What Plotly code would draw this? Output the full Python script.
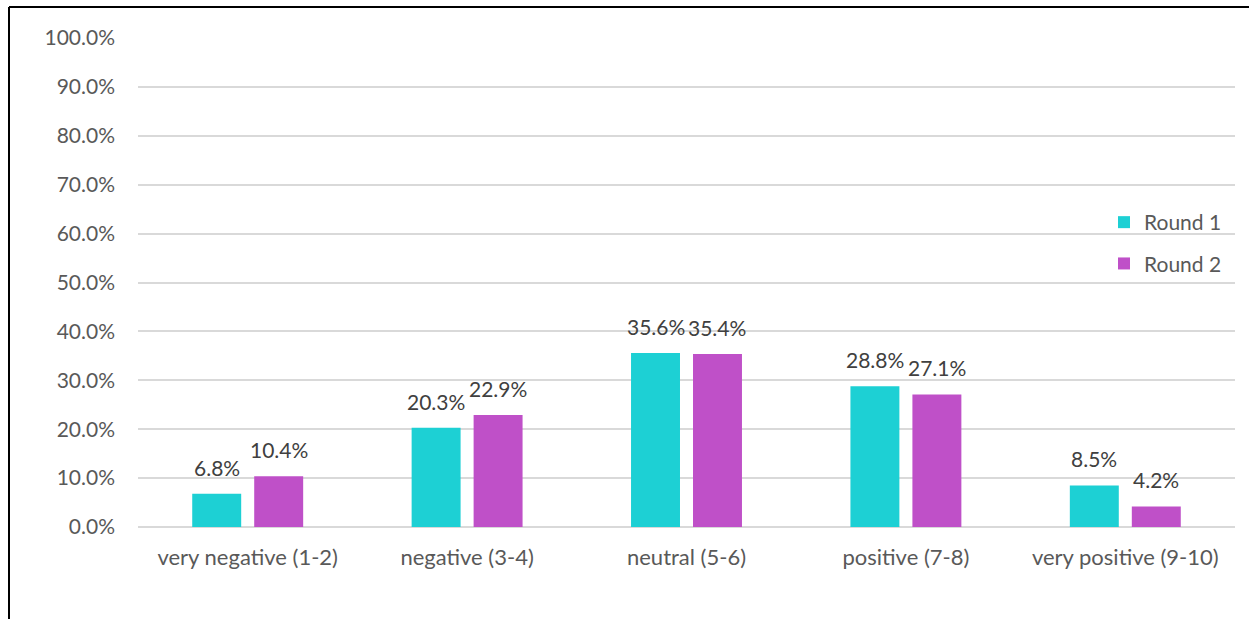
import plotly.graph_objects as go

categories = ["very negative (1-2)", "negative (3-4)", "neutral (5-6)",
              "positive (7-8)", "very positive (9-10)"]
round1 = [6.8, 20.3, 35.6, 28.8, 8.5]
round2 = [10.4, 22.9, 35.4, 27.1, 4.2]
series_names = ["Round 1", "Round 2"]
colors = ["#1DD0D4", "#BF50C8"]

W, H = 1249, 619
L, R, T, B = 138, 14, 38, 92
FONT = "Lato, 'Open Sans', sans-serif"
FS = 21
BARGAP, GROUPGAP = 0.435, 0.21

fig = go.Figure()
for name, vals, col in zip(series_names, [round1, round2], colors):
    fig.add_trace(go.Bar(
        x=categories, y=vals, name=name, legendgroup=name,
        marker=dict(color=col, line=dict(width=0)),
    ))

pw = W - L - R
ph = H - T - B
cat_px = pw / len(categories)
slot_px = cat_px * (1 - BARGAP) / 2

# value labels above each bar
annotations = []
for i, vals in enumerate([round1, round2]):
    shift = (i - 0.5) * slot_px
    for c, v in zip(categories, vals):
        annotations.append(dict(
            x=c, y=v, xref="x", yref="y", text=f"{v:.1f}%",
            showarrow=False, xanchor="center", yanchor="bottom",
            xshift=shift, yshift=12,
            font=dict(family=FONT, size=FS, color="#404040"),
        ))


def px_x(p):
    return (p - L) / pw


def px_y(p):
    return (H - B - p) / ph


fig.update_layout(
    width=W, height=H,
    margin=dict(l=L, r=R, t=T, b=B),
    paper_bgcolor="white", plot_bgcolor="white",
    barmode="group", bargap=BARGAP, bargroupgap=GROUPGAP,
    font=dict(family=FONT, size=FS, color="#595959"),
    showlegend=True,
    legend=dict(
        x=px_x(1104), y=px_y(202), xanchor="left", yanchor="top",
        bgcolor="rgba(0,0,0,0)", tracegroupgap=11,
        font=dict(family=FONT, size=FS, color="#595959"),
    ),
    annotations=annotations,
    xaxis=dict(showgrid=False, showline=False, ticks="", ticklabelstandoff=15,
               tickfont=dict(family=FONT, size=22, color="#595959")),
    yaxis=dict(range=[0, 100], dtick=10, showgrid=True, gridcolor="#D9D9D9",
               gridwidth=2, zeroline=True, zerolinecolor="#D9D9D9",
               zerolinewidth=2, showline=False, ticksuffix="%",
               tickformat=".1f", ticklabelstandoff=22,
               tickfont=dict(family=FONT, size=FS, color="#595959")),
    shapes=[
        dict(type="line", xref="paper", yref="paper",
             x0=px_x(9), x1=px_x(W + 2), y0=px_y(7), y1=px_y(7),
             line=dict(color="black", width=2)),
        dict(type="line", xref="paper", yref="paper",
             x0=px_x(9), x1=px_x(9), y0=px_y(7), y1=px_y(H + 2),
             line=dict(color="black", width=2)),
    ],
)

fig.write_html("out.html")
